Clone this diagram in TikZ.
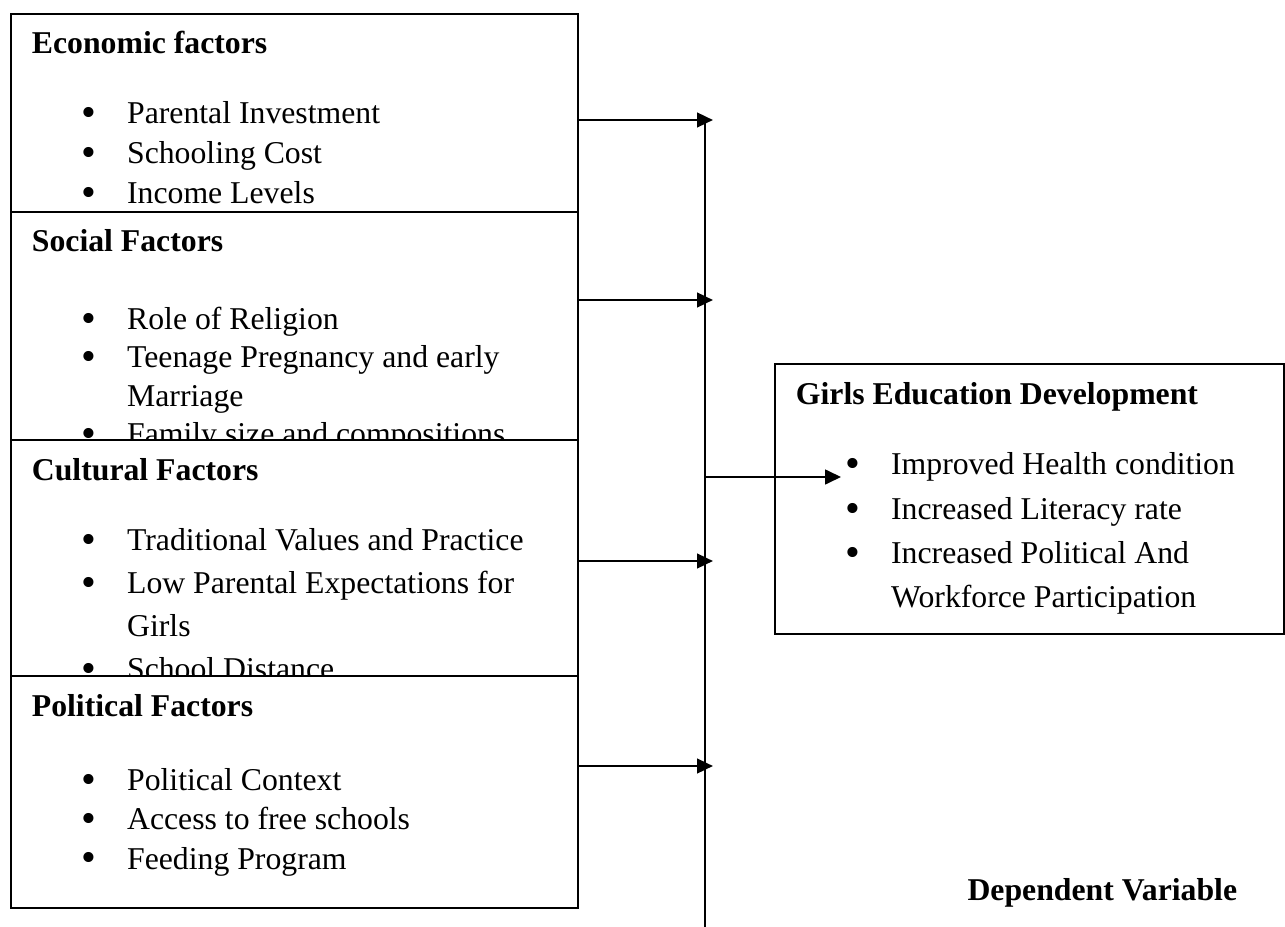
\documentclass[tikz,border=0pt]{standalone}
\usepackage{fontspec}
\setmainfont{Liberation Serif}
\usepackage{tikz}
\usetikzlibrary{arrows.meta}

% one bulleted line, and the second line of a wrapped item
\newcommand{\bitem}[1]{\par\noindent\hspace*{26.6pt}\makebox[17.3pt][l]{\raisebox{-1.1pt}{\fontsize{16}{0}\selectfont\textbullet}}#1}
\newcommand{\bcont}[1]{\par\noindent\hspace*{43.9pt}#1}
% fixed-size box: height, width, line skip, heading, gap, items
\newcommand{\factorbox}[6]{\parbox[t][#1][t]{#2}{\setlength{\baselineskip}{#3}%
  \vspace*{4.5pt}\noindent\hspace*{7.9pt}\strut\textbf{#4}\par\vspace{#5}#6}}

\tikzstyle{factor} = [rectangle, draw=black, fill=white, line width=0.75pt, anchor=north west, inner sep=0pt, font=\fontsize{12}{15.1}\selectfont]
\tikzstyle{arrow} = [line width=0.7pt, -{Triangle[length=6pt,width=5.6pt]}]

\begin{document}
\begin{tikzpicture}[x=0.378pt,y=-0.378pt]
 \useasboundingbox (0,0) rectangle (1285,927);
 \node[factor] (econ) at (10,12.7)
      {\factorbox{75pt}{214.3pt}{15.1pt}{Economic factors}{11.4pt}{%
        \bitem{Parental Investment}\bitem{Schooling Cost}\bitem{Income Levels}}};
 \node[factor] (social) at (10,211)
      {\factorbox{86.3pt}{214.3pt}{14.6pt}{Social Factors}{14.6pt}{%
        \bitem{Role of Religion}\bitem{Teenage Pregnancy and early}\bcont{Marriage}%
        \bitem{Family size and compositions}}};
 \node[factor] (cultural) at (10,439.3)
      {\factorbox{89.2pt}{214.3pt}{16.25pt}{Cultural Factors}{10.5pt}{%
        \bitem{Traditional Values and Practice}\bitem{Low Parental Expectations for}%
        \bcont{Girls}\bitem{School Distance}}};
 \node[factor] (political) at (10,675.3)
      {\factorbox{87.5pt}{214.3pt}{14.8pt}{Political Factors}{13.4pt}{%
        \bitem{Political Context}\bitem{Access to free schools}\bitem{Feeding Program}}};
 \node[factor] (girls) at (774,363.3)
      {\factorbox{102pt}{192.4pt}{16.75pt}{Girls Education Development}{9.95pt}{%
        \bitem{Improved Health condition}\bitem{Increased Literacy rate}%
        \bitem{Increased Political And}\bcont{Workforce Participation}}};
 \node[font=\fontsize{12}{15.1}\selectfont\bfseries, anchor=base west, inner sep=0pt] (depvar)
      at (967,900) {Dependent Variable};
% arrows
 \coordinate (bustop) at (705,120);
 \coordinate (busbot) at (705,927);
 \draw[line width=0.7pt] (bustop) -- (busbot);
 \draw[arrow] (econ.east |- bustop) -- ++(134,0);
 \draw[arrow] (social.east |- 0,300) -- ++(134,0);
 \draw[arrow] (cultural.east |- 0,561) -- ++(134,0);
 \draw[arrow] (political.east |- 0,766) -- ++(134,0);
 \draw[arrow] (bustop |- 0,477) -- ++(136,0);
\end{tikzpicture}
\end{document}
